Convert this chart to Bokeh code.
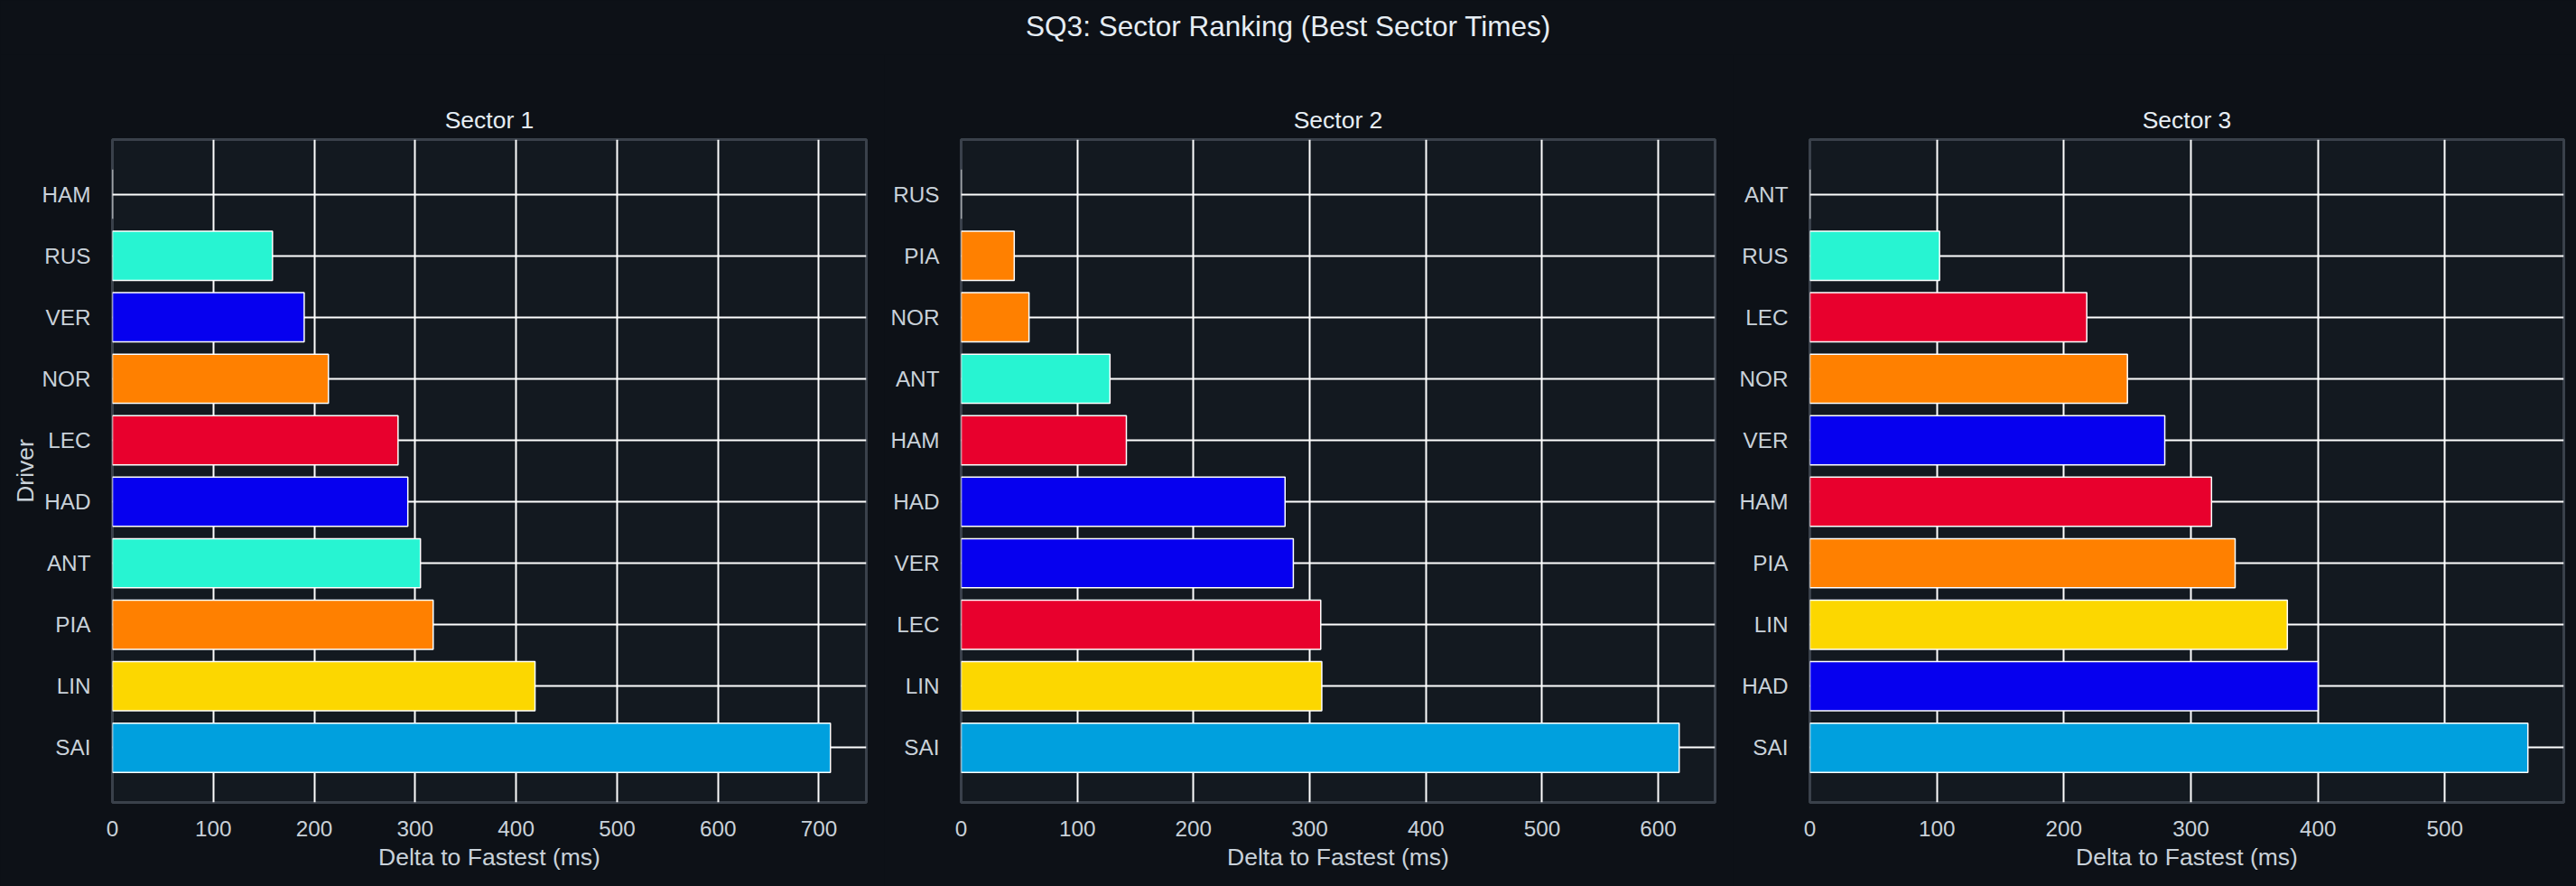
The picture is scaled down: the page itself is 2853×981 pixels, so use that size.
from bokeh.plotting import figure
from bokeh.layouts import row, column
from bokeh.models import Range1d, FactorRange, SingleIntervalTicker, ColumnDataSource
from bokeh.core.properties import value
from bokeh.embed import file_html
from bokeh.resources import INLINE

# ---------------- data ----------------
suptitle = "SQ3: Sector Ranking (Best Sector Times)"
sector_titles = ["Sector 1", "Sector 2", "Sector 3"]

s1_drivers = ["HAM", "RUS", "VER", "NOR", "LEC", "HAD", "ANT", "PIA", "LIN", "SAI"]
s1_delta = [0, 158.6, 190, 214, 283, 292.7, 305.2, 317.8, 418.7, 711.4]

s2_drivers = ["RUS", "PIA", "NOR", "ANT", "HAM", "HAD", "VER", "LEC", "LIN", "SAI"]
s2_delta = [0, 45.7, 58.4, 128.1, 142.2, 278.8, 285.9, 309.5, 310.4, 618.0]

s3_drivers = ["ANT", "RUS", "LEC", "NOR", "VER", "HAM", "PIA", "LIN", "HAD", "SAI"]
s3_delta = [0, 102.1, 218, 250, 279.4, 316.2, 334.8, 375.9, 400.1, 565.3]

team_colors = {
    "HAM": "#E8002D", "LEC": "#E8002D",
    "RUS": "#27F4D2", "ANT": "#27F4D2",
    "VER": "#0600EF", "HAD": "#0600EF",
    "NOR": "#FF8000", "PIA": "#FF8000",
    "LIN": "#FCD700",
    "SAI": "#00A0DE",
}

x_label = "Delta to Fastest (ms)"
y_label = "Driver"

# ---------------- style ----------------
FIG_BG = "#0d1117"
AX_BG = "#131920"
FRAME = "#3a414b"
TICK_COL = "#c9d1d9"
TITLE_COL = "#e6edf3"
FONT = "Liberation Sans"

FRAME_W = 835
FRAME_H = 734
ROW_H = 921
TOP_H = 60


def make_panel(title, drivers, delta, left_border, right_border, show_ylabel):
    factors = list(reversed(drivers))
    src = ColumnDataSource(dict(
        driver=drivers,
        delta=delta,
        color=[team_colors[d] for d in drivers],
    ))
    p = figure(
        y_range=FactorRange(factors=factors, range_padding=0.39,
                            range_padding_units="absolute"),
        x_range=Range1d(0, max(delta) * 1.05),
        frame_width=FRAME_W, frame_height=FRAME_H,
        min_border_left=left_border, min_border_right=right_border,
        min_border_top=94, min_border_bottom=ROW_H - 94 - FRAME_H,
        output_backend="svg", toolbar_location=None,
        background_fill_color=AX_BG, border_fill_color=FIG_BG,
        title=title,
    )
    p.hbar(y="driver", left=0, right="delta", height=0.8, source=src,
           fill_color="color", line_color="white", line_width=1.5)

    p.title.align = "center"
    p.title.text_font = FONT
    p.title.text_font_size = "26.5px"
    p.title.text_font_style = "normal"
    p.title.text_color = TITLE_COL
    p.title.standoff = 13

    p.outline_line_color = FRAME
    p.outline_line_width = 3

    p.xaxis.ticker = SingleIntervalTicker(interval=100, num_minor_ticks=0)
    for ax in (p.xaxis[0], p.yaxis[0]):
        ax.axis_line_color = None
        ax.major_tick_line_color = None
        ax.minor_tick_line_color = None
        ax.major_label_text_font = FONT
        ax.major_label_text_font_size = "24.3px"
        ax.major_label_text_color = TICK_COL
        ax.axis_label_text_font = FONT
        ax.axis_label_text_font_size = "26.5px"
        ax.axis_label_text_font_style = "normal"
        ax.axis_label_text_color = TICK_COL
    p.xaxis.axis_label = x_label
    p.xaxis.major_label_standoff = 14
    p.xaxis.axis_label_standoff = 5
    p.yaxis.major_label_standoff = 18
    if show_ylabel:
        p.yaxis.axis_label = y_label
        p.yaxis.axis_label_standoff = 1

    p.xgrid.grid_line_color = "white"
    p.xgrid.grid_line_width = 2
    p.ygrid.grid_line_color = "white"
    p.ygrid.grid_line_width = 2
    return p


p1 = make_panel(sector_titles[0], s1_drivers, s1_delta, 124, 20, True)
p2 = make_panel(sector_titles[1], s2_drivers, s2_delta, 85, 20, False)
p3 = make_panel(sector_titles[2], s3_drivers, s3_delta, 85, 14, False)

top = figure(width=2853, height=TOP_H, x_range=Range1d(0, 1), y_range=Range1d(0, 1),
             x_axis_type=None, y_axis_type=None, min_border=0,
             output_backend="svg", toolbar_location=None,
             background_fill_color=FIG_BG, border_fill_color=FIG_BG)
top.outline_line_color = None
top.xgrid.visible = False
top.ygrid.visible = False
top.text(x=[0.5], y=[1 - 28 / TOP_H], text=[suptitle], text_align="center",
         text_baseline="middle", text_font=value(FONT), text_font_size="31.5px",
         text_color=TITLE_COL)

layout = column(top, row(p1, p2, p3, spacing=0), spacing=0,
                styles={"background-color": FIG_BG})

html = file_html(layout, INLINE)
html = html.replace("<body>", f'<body style="margin:0;background:{FIG_BG};">')
open("out.html", "w").write(html)
